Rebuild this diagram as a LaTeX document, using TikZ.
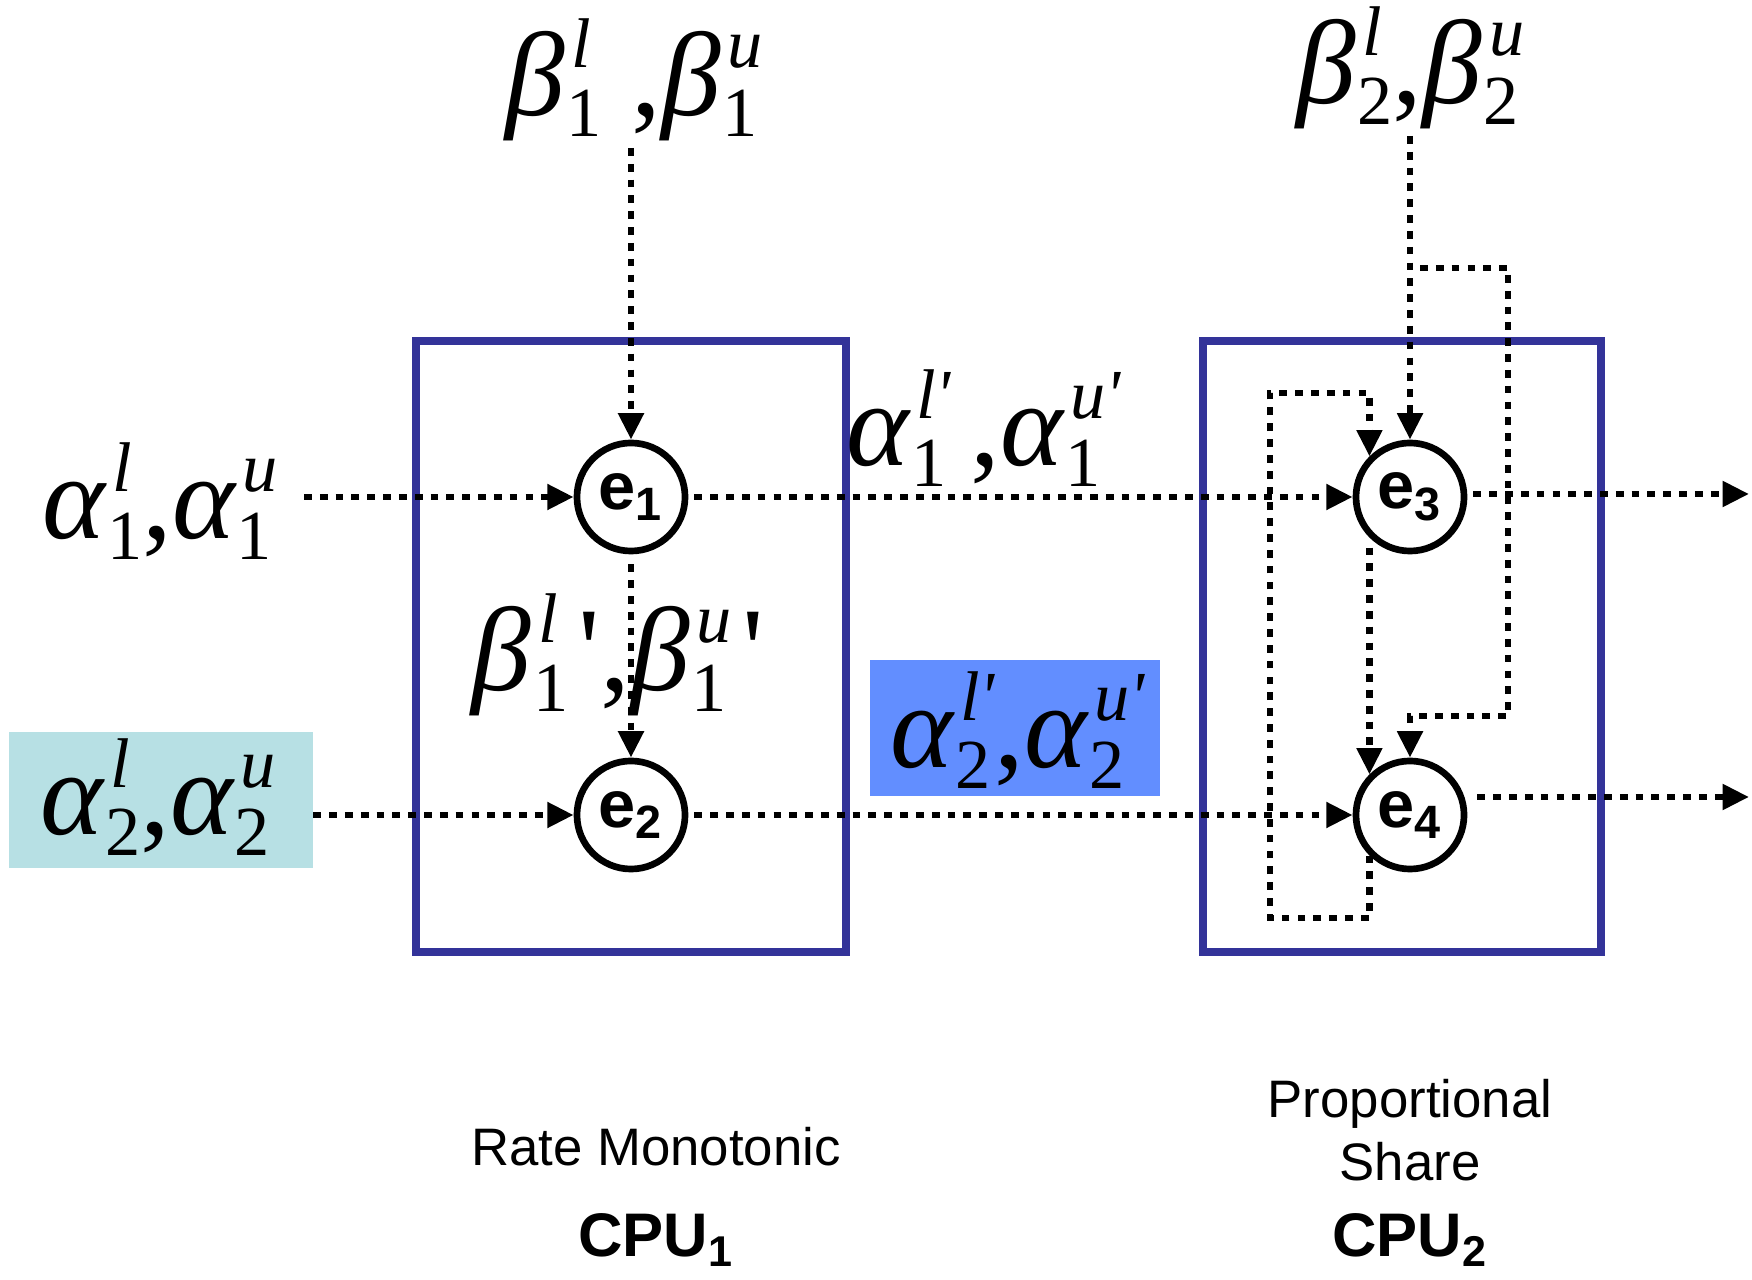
\documentclass[tikz,border=0pt]{standalone}
\usepackage{fontspec}
\setmainfont{Liberation Serif}
\setsansfont{Liberation Sans}
\usetikzlibrary{arrows.meta}
\definecolor{cpublue}{RGB}{51,51,153}
\definecolor{lcyan}{RGB}{183,224,228}
\definecolor{lblue}{RGB}{98,142,255}
\newsavebox\svsub
\newsavebox\svsup
\newcommand{\scsz}{\fontsize{20}{22}\selectfont}
\newcommand{\sv}[3]{{\itshape #1}\sbox\svsub{\kern0.5pt\scsz #2}\sbox\svsup{\kern2pt\scsz\itshape #3}%
  \rlap{\raisebox{-6pt}{\usebox\svsub}}\rlap{\raisebox{13.5pt}{\usebox\svsup}}%
  \ifdim\wd\svsub>\wd\svsup\hspace{\wd\svsub}\else\hspace{\wd\svsup}\fi}
\newcommand{\ap}{\textquotesingle}
\begin{document}
\begin{tikzpicture}[x=0.01cm,y=-0.01cm,
  dl/.style={line width=1.75pt, dash pattern=on 2.2pt off 2.3pt},
  arr/.style={dl, -{Triangle[length=7.5pt,width=7pt]}},
  ev/.style={circle, draw, fill=white, line width=1.9pt, minimum size=1.08cm, inner sep=0pt,
    font=\sffamily\bfseries\fontsize{19}{20}\selectfont},
  cpu/.style={draw=cpublue, line width=2.3pt, inner sep=0pt},
  lab/.style={font=\fontsize{34}{40}\selectfont, inner sep=0pt},
  sf/.style={font=\sffamily\fontsize{15}{18}\selectfont, align=center},
  sfb/.style={font=\sffamily\bfseries\fontsize{17.5}{20}\selectfont}]
\useasboundingbox (0,0) rectangle (1752,1280);

% CPU boxes
\node[cpu, minimum width=4.3cm, minimum height=6.11cm] (box1) at (631,646.5) {};
\node[cpu, minimum width=3.98cm, minimum height=6.11cm] (box2) at (1402,646.5) {};

% coloured label boxes
\node[fill=lcyan, minimum width=3.03cm, minimum height=1.35cm, inner sep=0pt] (a2) at (161,800) {};
\node[lab] (a2t) at (137,797) {\sv{α}{2}{l},\sv{α}{2}{u}};
\node[fill=lblue, minimum width=2.89cm, minimum height=1.36cm, inner sep=0pt] (a2p) at (1015,728) {};
\node[lab] (a2pt) at (989,730) {\sv{α}{2}{l\ap},\sv{α}{2}{u\ap}};

% labels
\node[lab] (b1) at (613,80) {\sv{β}{1}{l} ,\sv{β}{1}{u}};
\node[lab] (b2) at (1389,68) {\sv{β}{2}{l},\sv{β}{2}{u}};
\node[lab] (a1) at (139,501) {\sv{α}{1}{l},\sv{α}{1}{u}};
\node[lab] (a1p) at (955,428) {\sv{α}{1}{l\ap}\,,\sv{α}{1}{u\ap}};
\node[lab] (b1p) at (618,655) {\sv{β}{1}{l}\kern3pt\ap,\sv{β}{1}{u}\kern3pt\ap};

% event nodes
\node[ev] (e1) at (631,497) {e\textsubscript{1}};
\node[ev] (e2) at (631,815) {e\textsubscript{2}};
\node[ev] (e3) at (1410,497) {e\textsubscript{3}};
\node[ev] (e4) at (1410,815) {e\textsubscript{4}};

% bottom texts
\node[sf] (rm) at (656,1147) {Rate Monotonic};
\node[sfb] (c1) at (656,1240) {CPU\textsubscript{1}};
\node[sf] (ps) at (1410,1130) {Proportional\\Share};
\node[sfb] (c2) at (1410,1240) {CPU\textsubscript{2}};

% helper coordinates
\coordinate (s0) at (304,497);
\coordinate (s1) at (631,148);
\coordinate (s2) at (1410,136);
\coordinate (j1) at (1410,268);
\coordinate (k1) at (1508,716);
\coordinate (f1) at (1270,918);
\coordinate (f2) at (1270,393);
\coordinate (o3) at (1749,494);
\coordinate (o4) at (1749,797);

% connectors
\draw[arr] (s0) -- (e1.west);
\draw[arr] (s1) -- (e1.north);
\draw[arr, shorten <=0.06cm] (e1.east) -- (e3.west);
\draw[arr, shorten <=0.1cm] (e1.south) -- (e2.north);
\draw[arr] (a2.east |- e2) -- (e2.west);
\draw[arr, shorten <=0.06cm] (e2.east) -- (e4.west);
\draw[arr] (s2) -- (e3.north);
\draw[arr, shorten <=0.1cm] (j1) -| (k1) -| (e4.north);
\draw[arr] (e4.south west) |- (f1) -- (f2) -| (e3.north west);
\draw[arr, shorten <=0.1cm] (e3.south west) -- (e4.north west);
\draw[arr, shorten <=0.06cm] (e3.east |- o3) -- (o3);
\draw[arr, shorten <=0.1cm] (e4.east |- o4) -- (o4);
\end{tikzpicture}
\end{document}
